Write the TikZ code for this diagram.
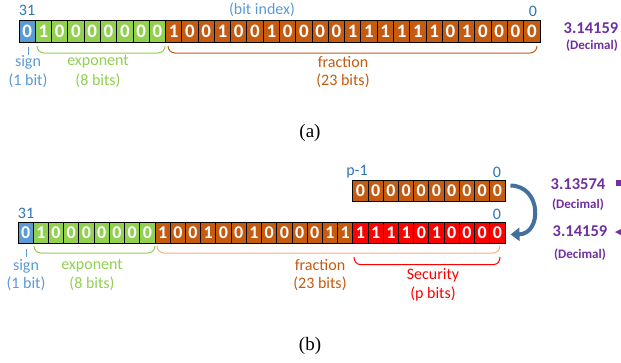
\documentclass[tikz,border=0pt]{standalone}
\usepackage{fontspec}
\setmainfont{Carlito}
\newfontfamily\capfont{Liberation Serif}
\usetikzlibrary{arrows.meta,calc}
\definecolor{signblue}{HTML}{5B9BD5}
\definecolor{numblue}{HTML}{2E75B6}
\definecolor{expgreen}{HTML}{92D050}
\definecolor{fracbrown}{HTML}{C55A11}
\definecolor{peach}{HTML}{F4B183}
\definecolor{secred}{HTML}{FF0000}
\definecolor{decpurple}{HTML}{7030A0}
\definecolor{arrowblue}{HTML}{41719C}
\tikzset{
  cellA/.style={draw=black, line width=0.9pt, minimum width=16.28pt, minimum height=22pt, inner sep=0pt, text=white, font=\fontsize{19}{19}\selectfont\bfseries},
  cellB/.style={draw=black, line width=0.9pt, minimum width=15.22pt, minimum height=21pt, inner sep=0pt, text=white, font=\fontsize{18}{18}\selectfont\bfseries},
  lbl/.style={inner sep=0pt, font=\fontsize{16}{16}\selectfont},
  dec/.style={inner sep=0pt, text=decpurple, font=\fontsize{16.5}{16.5}\selectfont\bfseries},
  decsmall/.style={inner sep=0pt, text=decpurple, font=\fontsize{13}{13}\selectfont\bfseries},
  brace/.style={line width=1pt},
  captext/.style={inner sep=0pt, font=\capfont\fontsize{19}{19}\selectfont}
}
\begin{document}
\begin{tikzpicture}[x=1pt,y=-1pt]
\clip (0,0) rectangle (621,362);
\fill[white] (0,0) rectangle (621,362);

% ---------- (a) ----------
\foreach \b [count=\i from 0] in {0,1,0,0,0,0,0,0,0,1,0,0,1,0,0,1,0,0,0,0,1,1,1,1,1,1,0,1,0,0,0,0}{
  \ifnum\i=0 \def\cc{signblue}\else\ifnum\i<9 \def\cc{expgreen}\else\def\cc{fracbrown}\fi\fi
  \node[cellA, fill=\cc] (a\i) at ({19+16.28*(\i+0.5)},31) {\b};
}
\node[lbl, text=numblue] (a31) at (27,10) {31};
\node[lbl, text=signblue] (abi) at (262,10) {(bit index)};
\node[lbl, text=numblue] (a0) at (533,11) {0};

\draw[signblue, brace] (28,47) -- (28,55);
\draw[expgreen, brace] (37,46) to[out=-90,in=180] (44,53) -- (158,53) to[out=0,in=-90] (165,46);
\draw[fracbrown, brace] (168,46) to[out=-90,in=180] (175,53) -- (530,53) to[out=0,in=-90] (537,46);

\node[lbl, text=signblue] (asg) at (28,62) {sign};
\node[lbl, text=signblue] (asg2) at (28,81) {(1 bit)};
\node[lbl, text=expgreen] (aex) at (98,62) {exponent};
\node[lbl, text=expgreen] (aex2) at (98,81) {(8 bits)};
\node[lbl, text=fracbrown] (afr) at (343,62) {fraction};
\node[lbl, text=fracbrown] (afr2) at (343,81) {(23 bits)};

\node[dec] (adec) at (591,28) {3.14159};
\node[decsmall] (adec2) at (592,46) {(Decimal)};

\node[captext] (capa) at (310,133) {(a)};

% ---------- (b) ----------
\foreach \b [count=\i from 0] in {0,1,0,0,0,0,0,0,0,1,0,0,1,0,0,1,0,0,0,0,1,1,1,1,1,1,0,1,0,0,0,0}{
  \ifnum\i=0 \def\cc{signblue}\else\ifnum\i<9 \def\cc{expgreen}\else\ifnum\i<22 \def\cc{fracbrown}\else\def\cc{secred}\fi\fi\fi
  \node[cellB, fill=\cc] (b\i) at ({18+15.22*(\i+0.5)},232.5) {\b};
}
\foreach \i in {0,...,9}{
  \node[cellB, fill=fracbrown] (u\i) at ({352.8+15.22*(\i+0.5)},190.5) {0};
}
\node[lbl, text=numblue] (b31l) at (26,213) {31};
\node[lbl, text=numblue] (b0l) at (497,214) {0};
\node[lbl, text=numblue] (pl) at (357,172) {p-1};
\node[lbl, text=numblue] (u0l) at (497,172) {0};

\coordinate (arrs) at ($(u9.east)+(5,-5)$);
\coordinate (arre) at ($(b31.east)+(5,2)$);
\draw[arrowblue, line width=4pt, -{Triangle[width=13pt,length=9pt]}] (arrs) .. controls (542,186) and (542,234) .. (arre);

\draw[signblue, brace] (26,249) -- (26,257);
\draw[expgreen, brace] (34,246) to[out=-90,in=180] (41,253) -- (148,253) to[out=0,in=-90] (155,246);
\draw[peach, brace] (157,246) to[out=-90,in=180] (164,253) -- (493,253) to[out=0,in=-90] (500,246);
\draw[secred, brace] (354,257) to[out=-90,in=180] (360,264.5) -- (494,264.5) to[out=0,in=-90] (500,257);

\node[lbl, text=signblue] (bsg) at (26,266) {sign};
\node[lbl, text=signblue] (bsg2) at (26,284) {(1 bit)};
\node[lbl, text=expgreen] (bex) at (92,266) {exponent};
\node[lbl, text=expgreen] (bex2) at (92,284) {(8 bits)};
\node[lbl, text=fracbrown] (bfr) at (320,265) {fraction};
\node[lbl, text=fracbrown] (bfr2) at (320,284) {(23 bits)};
\node[lbl, text=secred] (bsec) at (433,275) {Security};
\node[lbl, text=secred] (bsec2) at (433,294) {(p bits)};

\node[dec] (bdec1) at (578,184) {3.13574};
\node[decsmall] (bdec1s) at (578,205) {(Decimal)};
\node[dec] (bdec2) at (580,231) {3.14159};
\node[decsmall] (bdec2s) at (580,255) {(Decimal)};
\fill[decpurple] (616,180) rectangle (624,186);
\fill[decpurple] (615,232) -- (623,228) -- (623,236) -- cycle;

\node[captext] (capb) at (310,346) {(b)};
\end{tikzpicture}
\end{document}
